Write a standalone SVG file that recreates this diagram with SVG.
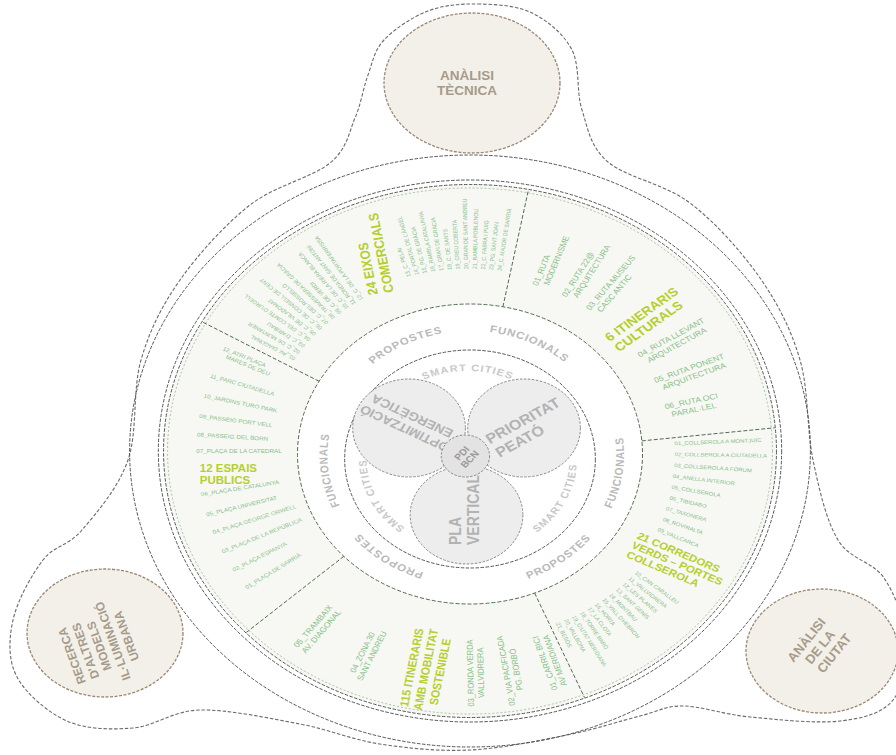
<svg xmlns="http://www.w3.org/2000/svg" width="896" height="755" viewBox="0 0 896 755">
<defs>
<style>
text{font-family:"Liberation Sans","DejaVu Sans",Arial,sans-serif}
.dk{fill:none;stroke:#555;stroke-width:1;stroke-dasharray:3.5 1.5;vector-effect:non-scaling-stroke}
.gl{fill:none;stroke:#4f6b4f;stroke-width:1;stroke-dasharray:4 2;vector-effect:non-scaling-stroke}
.lg{fill:none;stroke:#8fb58f;stroke-width:0.8;stroke-dasharray:2 2;vector-effect:non-scaling-stroke}
.lobe{fill:#ededed;stroke:#7d7d7d;stroke-width:0.9;stroke-dasharray:2.5 1.5;vector-effect:non-scaling-stroke}
.sat{fill:#f3f0ea;stroke:#9c8672;stroke-width:1.3;stroke-dasharray:3 1.5}
.blob{fill:none;stroke:#6a6a6a;stroke-width:1.1;stroke-dasharray:3.5 1.8}
.st{font-weight:bold;fill:#a69b89}
.lt{font-weight:bold;fill:#b2b2b2}
.ct{font-weight:bold;fill:#9a9a9a}
.rl{font-weight:bold;fill:#b9b9b9;font-size:10px;letter-spacing:0.8px}
.sc{font-weight:bold;fill:#c8c8c8;font-size:9.5px;letter-spacing:1px}
.ti{font-weight:bold;fill:#b5cf2c}
.it{fill:#88c088}
.s5{font-size:5.2px}
.s55{font-size:5.5px}
.s75{font-size:7.5px}
</style>
<path id="p1" d="M -2,96 A 88 88 0 1 1 -2,-80 A 88 88 0 1 1 -2,96"/>
<path id="p2" d="M -2,103 A 95 95 0 1 0 -2,-87 A 95 95 0 1 0 -2,103"/>
<path id="p3" d="M 0,128 A 124 124 0 1 1 0,-120 A 124 124 0 1 1 0,128"/>
<path id="p4" d="M 0,138 A 134 134 0 1 0 0,-130 A 134 134 0 1 0 0,138"/>
</defs>
<rect width="896" height="755" fill="#ffffff"/>

<g id="outline">
<path class="blob" d="M 478,4 C 495.3,4.3 516.3,5.3 532,13 C 547.7,20.7 563.7,33.8 572,50 C 580.3,66.2 576,91.3 582,110 C 588,128.7 590,146.5 608,162 C 626,177.5 664.7,183.7 690,203 C 715.3,222.3 741.7,251.8 760,278 C 778.3,304.2 791.2,329.7 800,360 C 808.8,390.3 806.7,430 813,460 C 819.3,490 826.2,520.3 838,540 C 849.8,559.7 872.7,561.3 884,578 C 895.3,594.7 904.5,619.7 906,640 C 907.5,660.3 904,686.5 893,700 C 882,713.5 863.8,718.2 840,721 C 816.2,723.8 776.2,719.5 750,717 C 723.8,714.5 701.3,706.2 683,706 C 664.7,705.8 659.3,711.2 640,716 C 620.7,720.8 595.3,729.3 567,735 C 538.7,740.7 501.2,748.5 470,750 C 438.8,751.5 408.3,748.3 380,744 C 351.7,739.7 330,729.7 300,724 C 270,718.3 227.8,709.3 200,710 C 172.2,710.7 155.2,726.2 133,728 C 110.8,729.8 86.3,729.5 67,721 C 47.7,712.5 26,693.8 17,677 C 8,660.2 8.7,639.5 13,620 C 17.3,600.5 31.5,575 43,560 C 54.5,545 67.8,546.7 82,530 C 96.2,513.3 118.2,488.3 128,460 C 137.8,431.7 132.3,390 141,360 C 149.7,330 161.8,305.8 180,280 C 198.2,254.2 225,224.5 250,205 C 275,185.5 312.5,177.5 330,163 C 347.5,148.5 348.7,132.7 355,118 C 361.3,103.3 363.2,88 368,75 C 372.8,62 374,50.7 384,40 C 394,29.3 412.3,17 428,11 C 443.7,5 460.7,3.7 478,4 Z"/>
</g>

<g id="analisi-tecnica">
<ellipse class="sat" cx="472" cy="83" rx="88" ry="70"/>
<text class="st" font-size="13.5" text-anchor="middle"><tspan x="467" y="80">ANÀLISI</tspan><tspan x="467" y="95">TÈCNICA</tspan></text>
</g>
<g id="analisi-ciutat">
<ellipse class="sat" cx="822" cy="651" rx="76" ry="62"/>
<text class="st" font-size="13" text-anchor="middle" transform="translate(820,647) rotate(-51)"><tspan x="-3" y="-10.5">ANÀLISI</tspan><tspan x="0" y="4.5">DE LA</tspan><tspan x="4" y="19.5">CIUTAT</tspan></text>
</g>
<g id="recerca">
<ellipse class="sat" cx="105" cy="633" rx="78" ry="64"/>
<text class="st" font-size="12" text-anchor="middle" transform="translate(99,646) rotate(-110)"><tspan x="0" y="-24.7">RECERCA</tspan><tspan x="0" y="-10.2">D'ALTRES</tspan><tspan x="0" y="4.3">MODELS</tspan><tspan x="0" y="18.8">IL·LUMINACIÓ</tspan><tspan x="0" y="33.3">URBANA</tspan></text>
</g>

<g id="wheel" transform="translate(470,451) scale(1.15,1)">
<g id="rings">
<circle class="dk" cx="0" cy="0" r="296"/>
<path d="M -266,0 A 266 266 0 1 1 266,0 A 266 266 0 1 1 -266,0 Z M -150,3 A 150 150 0 1 0 150,3 A 150 150 0 1 0 -150,3 Z" fill="#f7f8f4" fill-rule="evenodd"/>
<circle class="dk" cx="0" cy="0" r="271"/>
<circle class="dk" cx="0" cy="0" r="266.5"/>
<circle class="lg" cx="0" cy="0" r="263"/>
<circle class="gl" cx="0" cy="3" r="150"/>
<circle class="dk" cx="0" cy="8" r="109" fill="#ffffff"/>
</g>

<g id="dividers">
<line class="gl" x1="28.6" y1="-144.2" x2="50.8" y2="-261.1"/>
<line class="gl" x1="149.4" y1="-10.1" x2="265" y2="-23.2"/>
<line class="gl" x1="56.2" y1="142.1" x2="99.6" y2="246.6"/>
<line class="gl" x1="-109.7" y1="105.3" x2="-194.5" y2="181.4"/>
<line class="gl" x1="-131.2" y1="-69.7" x2="-232.6" y2="-129"/>
</g>

<g id="ring-labels">
<text class="sc" text-anchor="middle"><textPath href="#p1" startOffset="50%">SMART CITIES</textPath></text>
<text class="sc" text-anchor="middle"><textPath href="#p1" startOffset="17.8%">SMART CITIES</textPath></text>
<text class="sc" text-anchor="middle"><textPath href="#p2" startOffset="17.5%">SMART CITIES</textPath></text>
<text class="rl" text-anchor="middle"><textPath href="#p3" startOffset="42.5%">PROPOSTES</textPath></text>
<text class="rl" text-anchor="middle"><textPath href="#p3" startOffset="56.9%">FUNCIONALS</textPath></text>
<text class="rl" text-anchor="middle"><textPath href="#p3" startOffset="23%">FUNCIONALS</textPath></text>
<text class="rl" text-anchor="middle"><textPath href="#p3" startOffset="9.7%">PROPOSTES</textPath></text>
<text class="rl" text-anchor="middle"><textPath href="#p4" startOffset="22.8%">FUNCIONALS</textPath></text>
<text class="rl" text-anchor="middle"><textPath href="#p4" startOffset="10.3%">PROPOSTES</textPath></text>
</g>

<g id="optimitzacio">
<circle class="lobe" cx="-53" cy="-23" r="49"/>
<text class="lt" font-size="12" text-anchor="middle" transform="translate(-54,-28) rotate(-152)"><tspan x="0" y="-2">OPTIMITZACIÓ</tspan><tspan x="0" y="12">ENERGÈTICA</tspan></text>
</g>
<g id="prioritat">
<circle class="lobe" cx="47" cy="-23" r="49"/>
<text class="lt" font-size="14" text-anchor="middle" transform="translate(47,-23) rotate(-32)"><tspan x="3" y="-2">PRIORITAT</tspan><tspan x="-10" y="14">PEATÓ</tspan></text>
</g>
<g id="pla-vertical">
<circle class="lobe" cx="-3" cy="64" r="49"/>
<text class="lt" font-size="14" transform="translate(0,94) rotate(-90)"><tspan x="0" y="-8">PLA</tspan><tspan x="0" y="7.6">VERTICAL</tspan></text>
</g>
<g id="pdi-bcn">
<circle class="lobe" cx="-4" cy="5" r="21" style="fill:#e3e3e3"/>
<text class="ct" font-size="9" text-anchor="middle" transform="translate(-4,5) rotate(-50)"><tspan x="0" y="-1">PDI</tspan><tspan x="0" y="8">BCN</tspan></text>
</g>

<g id="eixos-comercials">
<text class="ti" font-size="12" transform="translate(-84,-156) rotate(-100)"><tspan x="0" y="4">24 EIXOS</tspan><tspan x="0" y="18">COMERCIALS</tspan></text>
<g class="it s5">
<text transform="rotate(-149) translate(178,2)">01_AV. DIAGONAL</text>
<text transform="rotate(-146.5) translate(178,2)">02_C. DE MUNTANER</text>
<text transform="rotate(-144.1) translate(178,2)">03_C. D'ARIBAU</text>
<text transform="rotate(-141.6) translate(178,2)">04_C. DEL COMTE D'URGELL</text>
<text transform="rotate(-139.2) translate(178,2)">05_C. DE VILADOMAT</text>
<text transform="rotate(-136.7) translate(178,2)">06_C. DE CONSELL DE CENT</text>
<text transform="rotate(-134.3) translate(178,2)">07_C. DEL ROSSELLÓ</text>
<text transform="rotate(-131.8) translate(178,2)">08_TRAVESSERA DE GRÀCIA</text>
<text transform="rotate(-129.4) translate(178,2)">09_C. DE VERDI</text>
<text transform="rotate(-126.9) translate(178,2)">10_C. DE LA RIERA BLANCA</text>
<text transform="rotate(-124.5) translate(178,2)">11_RONDA DE SANT ANTONI</text>
<text transform="rotate(-122) translate(178,2)">12_C. DE LA PORTAFERRISSA</text>
<text transform="rotate(-107) translate(182,2)">13_C. PELAI</text>
<text transform="rotate(-104.7) translate(182,2)">14_PORTAL DE L'ÀNGEL</text>
<text transform="rotate(-102.5) translate(182,2)">15_PG. DE GRÀCIA</text>
<text transform="rotate(-100.2) translate(182,2)">16_RAMBLA CATALUNYA</text>
<text transform="rotate(-97.9) translate(182,2)">17_GRAN DE GRÀCIA</text>
<text transform="rotate(-95.6) translate(182,2)">18_C. DE SANTS</text>
<text transform="rotate(-93.4) translate(182,2)">19_CREU COBERTA</text>
<text transform="rotate(-91.1) translate(182,2)">20_GRAN DE SANT ANDREU</text>
<text transform="rotate(-88.8) translate(182,2)">21_RAMBLA POBLENOU</text>
<text transform="rotate(-86.5) translate(182,2)">22_C. FABRA I PUIG</text>
<text transform="rotate(-84.3) translate(182,2)">23_PG. SANT JOAN</text>
<text transform="rotate(-82) translate(182,2)">24_C. MAJOR DE SARRIÀ</text>
</g>
</g>

<g id="itineraris-culturals">
<text class="ti" font-size="12" transform="translate(119,-112) rotate(-39)"><tspan x="0" y="4">6 ITINERARIS</tspan><tspan x="0" y="17">CULTURALS</tspan></text>
<g class="it s75">
<text transform="rotate(-70) translate(175,0)"><tspan x="0" y="-1">01_RUTA</tspan><tspan x="4" y="8">MODERNISME</tspan></text>
<text transform="rotate(-61) translate(175,0)"><tspan x="0" y="-1">02_RUTA 22@</tspan><tspan x="4" y="8">ARQUITECTURA</tspan></text>
<text transform="rotate(-53) translate(175,0)"><tspan x="0" y="-1">03_RUTA MUSEUS</tspan><tspan x="4" y="8">CASC ANTIC</tspan></text>
<text transform="rotate(-32) translate(175,0)"><tspan x="0" y="-1">04_RUTA LLEVANT</tspan><tspan x="4" y="8">ARQUITECTURA</tspan></text>
<text transform="rotate(-22.5) translate(175,0)"><tspan x="0" y="-1">05_RUTA PONENT</tspan><tspan x="4" y="8">ARQUITECTURA</tspan></text>
<text transform="rotate(-13.5) translate(175,0)"><tspan x="0" y="-1">06_RUTA OCI</tspan><tspan x="4" y="8">PARAL·LEL</tspan></text>
</g>
</g>

<g id="corredors-verds">
<text class="ti" font-size="10" transform="translate(146,84) rotate(26)"><tspan x="0" y="3.5">21 CORREDORS</tspan><tspan x="0" y="14">VERDS – PORTES</tspan><tspan x="0" y="24.5">COLLSEROLA</tspan></text>
<g class="it s5">
<text transform="rotate(-2.5) translate(178,2)">01_COLLSEROLA A MONTJUÏC</text>
<text transform="rotate(1) translate(178,2)">02_COLLSEROLA A CIUTADELLA</text>
<text transform="rotate(4.5) translate(178,2)">03_COLLSEROLA A FÒRUM</text>
<text transform="rotate(8) translate(178,2)">04_ANELLA INTERIOR</text>
<text transform="rotate(11.5) translate(179,2)">05_COLLSEROLA</text>
<text transform="rotate(15) translate(180,2)">06_TIBIDABO</text>
<text transform="rotate(18.5) translate(180,2)">07_TAXONERA</text>
<text transform="rotate(22) translate(181,2)">08_ROVIRALTA</text>
<text transform="rotate(25.5) translate(181,2)">09_VALLCARCA</text>
<text transform="rotate(40) translate(188,2)">10_CAN CARALLEU</text>
<text transform="rotate(42.4) translate(188,2)">11_VALLVIDRERA</text>
<text transform="rotate(44.7) translate(188,2)">12_LES PLANES</text>
<text transform="rotate(47.1) translate(188,2)">13_SANT GENÍS</text>
<text transform="rotate(49.5) translate(188,2)">14_MONTBAU</text>
<text transform="rotate(51.8) translate(188,2)">15_VALL D'HEBRON</text>
<text transform="rotate(54.2) translate(188,2)">16_HORTA</text>
<text transform="rotate(56.5) translate(188,2)">17_LA CLOTA</text>
<text transform="rotate(58.9) translate(188,2)">18_TORRE BARÓ</text>
<text transform="rotate(61.3) translate(188,2)">19_CIUTAT MERIDIANA</text>
<text transform="rotate(63.6) translate(188,2)">20_VALLBONA</text>
<text transform="rotate(66) translate(188,2)">21_BESÒS</text>
</g>
</g>

<g id="mobilitat-sostenible">
<text class="ti" font-size="10.5" text-anchor="middle" transform="rotate(100) translate(222,0) rotate(180)"><tspan x="0" y="-8.7">115 ITINERARIS</tspan><tspan x="0" y="3.8">AMB MOBILITAT</tspan><tspan x="0" y="16.3">SOSTENIBLE</tspan></text>
<g class="it s75" text-anchor="middle">
<text transform="rotate(72) translate(222,0) rotate(180)"><tspan x="0" y="-1">01_CARRIL BICI</tspan><tspan x="0" y="8">AV MERIDIANA</tspan></text>
<text transform="rotate(81) translate(222,0) rotate(180)"><tspan x="0" y="-1">02_VIA PACIFICADA</tspan><tspan x="0" y="8">PG. BORBÓ</tspan></text>
<text transform="rotate(89) translate(222,0) rotate(180)"><tspan x="0" y="-1">03_RONDA VERDA</tspan><tspan x="0" y="8">VALLVIDRERA</tspan></text>
<text transform="rotate(114) translate(222,0) rotate(180)"><tspan x="0" y="-1">04_ZONA 30</tspan><tspan x="0" y="8">SANT ANDREU</tspan></text>
<text transform="rotate(127) translate(222,0) rotate(180)"><tspan x="0" y="-1">05_TRAMBAIX</tspan><tspan x="0" y="8">AV. DIAGONAL</tspan></text>
</g>
</g>

<g id="espais-publics">
<text class="ti" font-size="10"><tspan x="-235" y="21">12 ESPAIS</tspan><tspan x="-235" y="33">PUBLICS</tspan></text>
<g class="it s55">
<text transform="rotate(145) translate(238,-2) rotate(180)">01_PLAÇA DE SARRIÀ</text>
<text transform="rotate(150) translate(238,-2) rotate(180)">02_PLAÇA ESPANYA</text>
<text transform="rotate(155) translate(238,-2) rotate(180)">03_PLAÇA DE LA REPÚBLICA</text>
<text transform="rotate(160) translate(238,-2) rotate(180)">04_PLAÇA GEORGE ORWELL</text>
<text transform="rotate(164.5) translate(238,-2) rotate(180)">05_PLAÇA UNIVERSITAT</text>
<text transform="rotate(169.5) translate(238,-2) rotate(180)">06_PLAÇA DE CATALUNYA</text>
<text transform="rotate(180) translate(238,-2) rotate(180)">07_PLAÇA DE LA CATEDRAL</text>
<text transform="rotate(184) translate(238,-2) rotate(180)">08_PASSEIG DEL BORN</text>
<text transform="rotate(188.5) translate(238,-2) rotate(180)">09_PASSEIG PORT VELL</text>
<text transform="rotate(193.5) translate(238,-2) rotate(180)">10_JARDINS TURÓ PARK</text>
<text transform="rotate(198.5) translate(238,-2) rotate(180)">11_PARC CIUTADELLA</text>
<text transform="rotate(205) translate(238,0) rotate(180)"><tspan x="0" y="-0.5">12_ATRI PLAÇA</tspan><tspan x="6" y="6">MARES DE DÉU</tspan></text>
</g>
</g>
</g>
</svg>
